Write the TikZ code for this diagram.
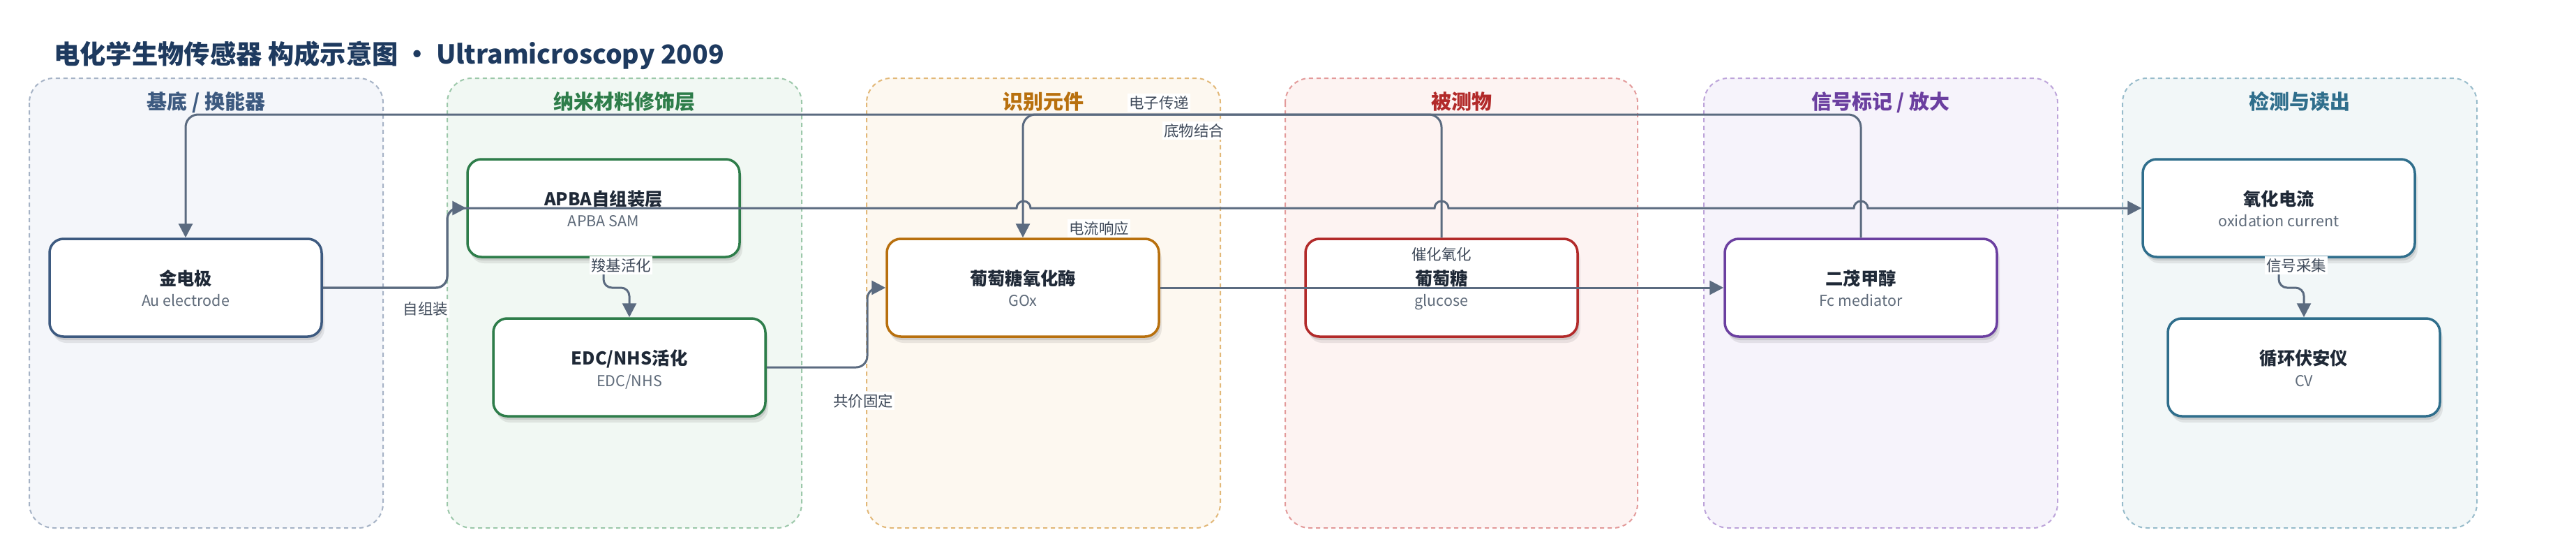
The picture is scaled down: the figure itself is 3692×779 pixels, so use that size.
\documentclass[tikz,border=0pt]{standalone}
\usepackage{fontspec}
\setmainfont{Noto Sans CJK SC}
\usetikzlibrary{arrows.meta,shadows}
\definecolor{edgec}{HTML}{5B6B80}
\definecolor{lblc}{HTML}{3F4A5A}
\definecolor{ttlc}{HTML}{1F2937}
\definecolor{subc}{HTML}{5F6B7A}
\definecolor{titlec}{HTML}{1E3A5F}
\definecolor{laFa}{HTML}{F4F6FA}\definecolor{laBa}{HTML}{A6B3C6}\definecolor{laHa}{HTML}{3D5A80}
\definecolor{laFb}{HTML}{F1F8F3}\definecolor{laBb}{HTML}{9CC8AA}\definecolor{laHb}{HTML}{2E7D4A}
\definecolor{laFc}{HTML}{FDF8F0}\definecolor{laBc}{HTML}{E2B878}\definecolor{laHc}{HTML}{B8700E}
\definecolor{laFd}{HTML}{FDF3F2}\definecolor{laBd}{HTML}{E39A9A}\definecolor{laHd}{HTML}{B22A2A}
\definecolor{laFe}{HTML}{F6F3FB}\definecolor{laBe}{HTML}{BDA4DA}\definecolor{laHe}{HTML}{6B3FA0}
\definecolor{laFf}{HTML}{F2F7F8}\definecolor{laBf}{HTML}{98BCCB}\definecolor{laHf}{HTML}{2F6E8C}
\begin{document}
\begin{tikzpicture}[x=1pt,y=-1pt,
  lane/.style={line width=2pt, dash pattern=on 6pt off 5pt, rounded corners=35pt},
  hdr/.style={font=\fontsize{29}{32}\selectfont\bfseries, inner sep=0pt, text height=25.5pt, text depth=3.5pt},
  box/.style={rectangle, rounded corners=20pt, minimum width=390pt, minimum height=140pt, line width=3.5pt, fill=white,
    drop shadow={shadow xshift=2pt, shadow yshift=-5pt, opacity=.10, fill=black},
    drop shadow={shadow xshift=4pt, shadow yshift=-9pt, opacity=.08, fill=black}},
  ttl/.style={font=\fontsize{25.3}{28}\selectfont\bfseries, text=ttlc, inner sep=0pt, text height=22pt, text depth=3pt},
  sub/.style={font=\fontsize{21.5}{24}\selectfont, text=subc, inner sep=0pt, text height=16pt, text depth=3pt},
  lbl/.style={font=\fontsize{21.5}{24}\selectfont, text=lblc, fill=white, inner sep=2pt, text height=19pt, text depth=2.5pt},
  line/.style={draw=edgec, line width=3pt},
  edge/.style={line, -{Triangle[length=20pt,width=20pt]}}
]
\useasboundingbox (0,0) rectangle (3692,779);
\fill[white] (0,0) rectangle (3692,779);

% title
\node[anchor=west, inner sep=0pt, font=\fontsize{37.3}{40}\selectfont\bfseries, text=titlec, text height=32.5pt, text depth=4.5pt] (title) at (77,77) {电化学生物传感器 构成示意图 · Ultramicroscopy 2009};

% lanes
\draw[lane, fill=laFa, draw=laBa] (42,112) rectangle (549,756);
\draw[lane, fill=laFb, draw=laBb] (641,112) rectangle (1149,756);
\draw[lane, fill=laFc, draw=laBc] (1242,112) rectangle (1749,756);
\draw[lane, fill=laFd, draw=laBd] (1842,112) rectangle (2347,756);
\draw[lane, fill=laFe, draw=laBe] (2442,112) rectangle (2949,756);
\draw[lane, fill=laFf, draw=laBf] (3042,112) rectangle (3550,756);

\node[hdr, text=laHa] (h1) at (295.5,145) {基底 / 换能器};
\node[hdr, text=laHb] (h2) at (895,145) {纳米材料修饰层};
\node[hdr, text=laHc] (h3) at (1495.5,145) {识别元件};
\node[hdr, text=laHd] (h4) at (2094.5,145) {被测物};
\node[hdr, text=laHe] (h5) at (2695.5,145) {信号标记 / 放大};
\node[hdr, text=laHf] (h6) at (3296,145) {检测与读出};

% nodes
\node[box, draw=laHa] (au) at (266,412) {};
\node[ttl] (au-t) at (266,399) {金电极};
\node[sub] (au-s) at (266,432) {Au electrode};

\node[box, draw=laHb] (apba) at (865,298) {};
\node[ttl] (apba-t) at (865,285) {APBA自组装层};
\node[sub] (apba-s) at (865,318) {APBA SAM};

\node[box, draw=laHb] (edc) at (902,526) {};
\node[ttl] (edc-t) at (902,513) {EDC/NHS活化};
\node[sub] (edc-s) at (902,547) {EDC/NHS};

\node[box, draw=laHc] (gox) at (1466,412) {};
\node[ttl] (gox-t) at (1466,399) {葡萄糖氧化酶};
\node[sub] (gox-s) at (1466,432) {GOx};

\node[box, draw=laHd] (glu) at (2066,412) {};
\node[ttl] (glu-t) at (2066,399) {葡萄糖};
\node[sub] (glu-s) at (2066,432) {glucose};

\node[box, draw=laHe] (fc) at (2667,412) {};
\node[ttl] (fc-t) at (2667,399) {二茂甲醇};
\node[sub] (fc-s) at (2667,432) {Fc mediator};

\node[box, draw=laHf] (ox) at (3266,298) {};
\node[ttl] (ox-t) at (3266,285) {氧化电流};
\node[sub] (ox-s) at (3266,318) {oxidation current};

\node[box, draw=laHf] (cv) at (3302,526) {};
\node[ttl] (cv-t) at (3302,513) {循环伏安仪};
\node[sub] (cv-s) at (3302,547) {CV};

% connectors
\draw[edge, rounded corners=16pt] (au.east) -- (641,412) -- (641,298) -- (apba.west);
\draw[line, rounded corners=16pt] (au.east) -- (641,412) -- (641,298) -- (700,298);
\draw[edge] (700,298) -- (1457,298) arc[start angle=180, end angle=0, radius=10pt]
  -- (2056,298) arc[start angle=180, end angle=0, radius=10pt]
  -- (2657,298) arc[start angle=180, end angle=0, radius=10pt] -- (ox.west);
\draw[edge, rounded corners=12pt] (apba.south) -- (865,412) -- (902,412) -- (edc.north);
\draw[edge, rounded corners=16pt] (edc.east) -- (1243,526) -- (1243,412) -- (gox.west);
\draw[edge, rounded corners=18pt] (glu.north) -- (2066,164) -- (1466,164) -- (gox.north);
\draw[edge, rounded corners=18pt] (fc.north) -- (2667,164) -- (266,164) -- (au.north);
\draw[edge] (gox.east) -- (fc.west);
\draw[edge, rounded corners=12pt] (ox.south) -- (3266,412) -- (3302,412) -- (cv.north);

% labels
\node[lbl] (l1) at (610,442) {自组装};
\node[lbl] (l2) at (890,380) {羧基活化};
\node[lbl] (l3) at (1237,574) {共价固定};
\node[lbl] (l4) at (1661,147) {电子传递};
\node[lbl] (l5) at (1711,187) {底物结合};
\node[lbl] (l6) at (1575,327) {电流响应};
\node[lbl, fill=none] (l7) at (2066,364) {催化氧化};
\node[lbl] (l8) at (3291,380) {信号采集};
\end{tikzpicture}
\end{document}
